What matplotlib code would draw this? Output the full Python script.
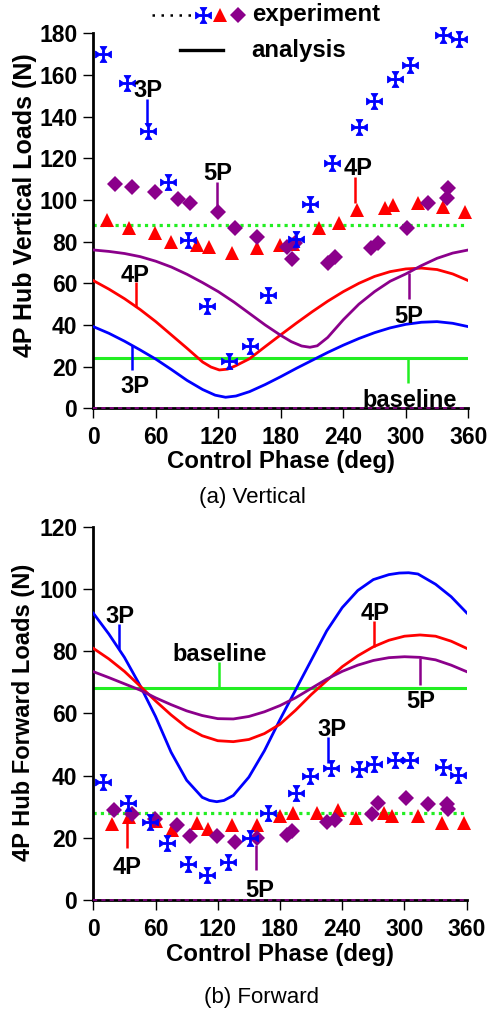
import matplotlib
matplotlib.use("Agg")
import matplotlib.pyplot as plt
from matplotlib.path import Path
from matplotlib.lines import Line2D

plt.rcParams['font.family'] = ['Liberation Sans', 'DejaVu Sans']
plt.rcParams['font.weight'] = 'bold'
plt.rcParams['axes.labelweight'] = 'bold'

BLUE = '#0000ff'
RED = '#ff0000'
PURPLE = '#8b008b'
GREEN = '#22ee22'

# ---------------- analysis curves ----------------
vert_3p_phase = [0, 15, 30, 45, 60, 75, 90, 105, 117, 127, 137, 150, 165, 180,
                 195, 210, 225, 240, 255, 270, 285, 300, 315, 330, 345, 360]
vert_3p = [39.2, 36.0, 32.2, 28.0, 23.6, 18.6, 13.4, 9.0, 6.3, 5.3, 5.9, 8.0, 11.4, 15.2,
           19.2, 23.0, 26.8, 30.3, 33.5, 36.3, 38.6, 40.3, 41.3, 41.6, 40.8, 39.2]

vert_4p_phase = [0, 15, 30, 45, 60, 75, 90, 105, 113, 121, 129, 137, 150, 165, 180,
                 195, 210, 225, 240, 255, 270, 285, 300, 315, 330, 345, 360]
vert_4p = [61.3, 57.2, 52.6, 47.4, 41.6, 35.2, 28.8, 22.2, 19.8, 18.4, 18.8, 20.5, 23.8,
           29.6, 35.3, 40.9, 46.3, 51.4, 56.0, 60.0, 63.3, 65.6, 66.9, 67.3, 66.6, 64.5, 61.3]

vert_5p_phase = [0, 15, 30, 45, 60, 75, 90, 105, 120, 135, 150, 165, 180, 190, 200,
                 208, 215, 225, 240, 255, 270, 285, 300, 315, 330, 345, 360]
vert_5p = [76.0, 75.3, 74.3, 72.8, 70.6, 67.8, 64.3, 60.3, 56.0, 51.0, 45.5, 40.0, 35.0,
           32.0, 29.9, 29.3, 30.0, 34.0, 42.5, 50.0, 56.0, 61.0, 64.5, 68.5, 72.0, 74.5, 76.0]

vert_baseline = 24.0
vert_exp_baseline = 88.0

fwd_3p_phase = [0, 15, 30, 45, 60, 75, 90, 105, 112, 119, 126, 135, 150, 165, 180,
                195, 210, 225, 240, 255, 270, 285, 295, 304, 313, 330, 345, 360]
fwd_3p = [92.2, 85.5, 78.0, 69.0, 59.0, 47.5, 38.5, 33.0, 32.0, 31.6, 32.0, 33.6, 39.5,
          48.0, 58.0, 67.5, 77.0, 86.5, 94.0, 99.5, 103.0, 104.6, 105.1, 105.2, 104.8,
          101.5, 97.5, 92.3]

fwd_4p_phase = [0, 15, 30, 45, 60, 75, 90, 105, 120, 135, 150, 165, 180,
                195, 210, 225, 240, 255, 270, 285, 300, 315, 330, 345, 360]
fwd_4p = [80.9, 77.5, 73.5, 68.8, 64.0, 59.5, 55.5, 52.8, 51.2, 50.9, 51.6, 53.5, 56.5,
          61.0, 66.0, 70.5, 75.0, 78.5, 81.4, 83.5, 84.8, 85.2, 84.8, 83.2, 80.9]

fwd_5p_phase = [0, 15, 30, 45, 60, 75, 90, 105, 120, 135, 150, 165, 180,
                195, 210, 225, 240, 255, 270, 285, 300, 315, 330, 345, 360]
fwd_5p = [73.4, 71.5, 69.5, 67.5, 65.0, 62.8, 60.8, 59.3, 58.3, 58.2, 59.0, 60.5, 62.5,
          65.0, 68.0, 71.0, 73.5, 75.5, 77.0, 77.9, 78.2, 78.0, 77.2, 75.5, 73.4]

fwd_baseline = 68.3
fwd_exp_baseline = 27.9

# ---------------- experimental points ----------------
vert_3p_exp_phase = [9.6, 32.6, 52.8, 72.0, 91.2, 109.4, 130.3, 150.4, 168.0, 194.6,
                     208.0, 228.8, 255.4, 269.5, 289.6, 304.0, 336.0, 351.4]
vert_3p_exp = [169.9, 156.3, 133.1, 108.5, 80.8, 49.1, 22.9, 30.1, 54.4, 81.1,
               97.9, 117.9, 135.2, 147.5, 157.9, 164.8, 179.2, 177.3]

vert_4p_exp_phase = [12.8, 34.6, 59.2, 74.3, 99.8, 111.4, 133.5, 156.8, 179.2, 192.0,
                     216.7, 235.9, 252.8, 280.0, 288.0, 312.0, 336.0, 356.8]
vert_4p_exp = [90.4, 86.4, 84.0, 80.0, 78.4, 77.6, 74.4, 76.8, 78.4, 79.0,
               86.4, 89.1, 95.2, 96.0, 97.6, 98.7, 96.8, 94.4]

vert_5p_exp_phase = [20.8, 36.8, 59.2, 81.6, 92.8, 120.0, 136.0, 157.5, 185.6, 190.4,
                     193.6, 225.6, 232.0, 266.6, 273.6, 300.8, 321.6, 339.2, 340.8]
vert_5p_exp = [107.5, 106.1, 103.7, 100.5, 98.7, 94.4, 86.4, 82.4, 77.6, 71.5,
               79.5, 69.6, 72.5, 76.8, 79.5, 86.4, 98.4, 100.8, 105.6]

fwd_3p_exp_phase = [9.6, 33.7, 54.7, 70.8, 91.6, 109.3, 130.2, 151.1, 168.8, 195.5,
                    209.0, 228.9, 256.5, 270.7, 291.0, 305.4, 337.5, 352.0]
fwd_3p_exp = [38.0, 31.1, 25.2, 18.4, 11.6, 8.0, 12.3, 19.8, 28.1, 34.5,
              39.9, 42.3, 42.0, 43.7, 45.0, 45.0, 42.9, 40.2]

fwd_4p_exp_phase = [17.7, 34.7, 60.5, 75.6, 100.3, 110.9, 134.0, 157.6, 180.0, 192.9,
                    216.0, 236.3, 253.3, 280.6, 287.7, 313.4, 336.0, 357.5]
fwd_4p_exp = [24.4, 26.8, 25.5, 22.5, 24.6, 22.7, 24.1, 24.1, 27.0, 27.9,
              27.9, 28.9, 26.3, 27.9, 27.0, 27.0, 24.8, 24.6]

fwd_5p_exp_phase = [20.0, 37.0, 59.5, 81.0, 93.3, 119.6, 136.6, 158.2, 186.5, 191.3,
                    225.0, 233.0, 268.5, 274.2, 301.5, 323.0, 340.8, 341.7]
fwd_5p_exp = [28.9, 27.6, 25.9, 24.1, 20.6, 20.6, 18.7, 19.8, 20.9, 22.3,
              25.2, 25.7, 27.5, 31.1, 32.7, 30.9, 30.9, 29.1]

x_ticks = [0, 60, 120, 180, 240, 300, 360]

# Filled cross-pattee marker for the 3P measurements:
# thin stems that flare out into a wide bar at each arm end.
_s, _f, _e = 0.13, 0.55, 0.42
_arm = [(_s, _s), (_s, _f), (_e, 1.0), (-_e, 1.0), (-_s, _f)]


def _rot(pts, k):
    out = []
    for x, y in pts:
        for _ in range(k):
            x, y = -y, x
        out.append((x, y))
    return out


_verts = []
for _k in range(4):
    _verts += _rot(_arm, _k)
_verts.append(_verts[0])
cross_marker = Path(_verts, [Path.MOVETO] + [Path.LINETO] * (len(_verts) - 2)
                    + [Path.CLOSEPOLY])

# annotation leaders: (text, colour, text_x, text_y, line_x, line_y0, line_y1)
vert_notes = [
    ('3P', BLUE, 52.8, 149.6, 51.3, 148.3, 136.0),
    ('5P', PURPLE, 119.0, 109.5, 118.4, 108.8, 95.2),
    ('4P', RED, 253.8, 111.8, 251.2, 111.2, 98.7),
    ('4P', RED, 40.0, 60.8, 40.6, 60.8, 48.8),
    ('3P', BLUE, 40.0, 7.2, 37.5, 30.4, 18.4),
    ('5P', PURPLE, 302.4, 40.8, 303.4, 64.8, 52.3),
    ('baseline', GREEN, 304.0, 0.4, 302.4, 24.0, 12.0),
]
fwd_notes = [
    ('3P', BLUE, 25.7, 88.9, 25.1, 88.7, 80.6),
    ('baseline', GREEN, 122.2, 76.8, 121.6, 76.6, 68.3),
    ('4P', RED, 271.6, 90.0, 270.6, 89.7, 81.4),
    ('5P', PURPLE, 315.7, 61.6, 315.1, 77.7, 69.1),
    ('3P', BLUE, 229.9, 52.6, 226.7, 52.5, 43.9),
    ('4P', RED, 32.8, 8.4, 32.2, 16.6, 26.8),
    ('5P', PURPLE, 160.7, 1.1, 156.6, 17.7, 9.6),
]

W, H = 489, 1013
fig = plt.figure(figsize=(W / 100, H / 100), dpi=100)

CROSS_KW = dict(ls='none', marker=cross_marker, ms=11.5, mfc=BLUE, mec=BLUE, mew=0.6)
TRI_KW = dict(ls='none', marker='^', ms=9.5, mfc=RED, mec=RED, mew=0)
DIA_KW = dict(ls='none', marker='D', ms=7.8, mfc=PURPLE, mec=PURPLE, mew=0)


def style_axes(ax, ymax, ylabel, ylab_x, ylab_y, ylab_size):
    ax.set_xlim(0, 360)
    ax.set_ylim(0, ymax)
    ax.set_xticks(x_ticks)
    ax.set_yticks(range(0, ymax + 1, 20))
    for s in ('top', 'right'):
        ax.spines[s].set_visible(False)
    for s in ('left', 'bottom'):
        ax.spines[s].set_linewidth(2.0)
    ax.tick_params(direction='out', length=7, width=1.0, labelsize=16.5)
    ax.tick_params(axis='x', pad=6)
    ax.tick_params(axis='y', pad=4.5)
    ax.set_xlabel('Control Phase (deg)', fontsize=17.3, va='center')
    ax.xaxis.set_label_coords(0.5, -0.1424)
    ax.set_ylabel(ylabel, fontsize=ylab_size, va='center')
    ax.yaxis.set_label_coords(ylab_x, ylab_y)
    ax.axhline(0, color=PURPLE, lw=1.2, ls=(0, (2.5, 2.5)), zorder=5, clip_on=False)


def draw_panel(ax, curves, base, exp_base, e3, e4, e5, notes):
    ax.axhline(exp_base, color=GREEN, lw=2.3, ls=(0, (1, 1.3)), zorder=2)
    ax.axhline(base, color=GREEN, lw=2.2, zorder=2)
    for (ph, val), col in zip(curves, (BLUE, RED, PURPLE)):
        ax.plot(ph, val, color=col, lw=2.0, zorder=3)
    ax.plot(e4[0], e4[1], zorder=4, clip_on=False, **TRI_KW)
    ax.plot(e5[0], e5[1], zorder=4, clip_on=False, **DIA_KW)
    ax.plot(e3[0], e3[1], zorder=4, clip_on=False, **CROSS_KW)
    for text, col, tx, ty, lx, ly0, ly1 in notes:
        ax.plot([lx, lx], [ly0, ly1], color=col, lw=1.8, zorder=4,
                solid_capstyle='butt')
        ax.text(tx, ty, text, ha='center', va='baseline', fontsize=17,
                fontweight='bold', zorder=6)


ax1 = fig.add_axes([93.3 / W, 1 - 408.3 / H, 375 / W, 375 / H])
style_axes(ax1, 180, '4P Hub Vertical Loads (N)', -0.182, 0.542, 18.0)
draw_panel(ax1,
           [(vert_3p_phase, vert_3p), (vert_4p_phase, vert_4p), (vert_5p_phase, vert_5p)],
           vert_baseline, vert_exp_baseline,
           (vert_3p_exp_phase, vert_3p_exp), (vert_4p_exp_phase, vert_4p_exp),
           (vert_5p_exp_phase, vert_5p_exp), vert_notes)

ax2 = fig.add_axes([93.3 / W, 1 - 900 / H, 373.4 / W, 373.3 / H])
style_axes(ax2, 120, '4P Hub Forward Loads (N)', -0.188, 0.502, 17.0)
ax2.xaxis.set_label_coords(0.5, -0.1473)
draw_panel(ax2,
           [(fwd_3p_phase, fwd_3p), (fwd_4p_phase, fwd_4p), (fwd_5p_phase, fwd_5p)],
           fwd_baseline, fwd_exp_baseline,
           (fwd_3p_exp_phase, fwd_3p_exp), (fwd_4p_exp_phase, fwd_4p_exp),
           (fwd_5p_exp_phase, fwd_5p_exp), fwd_notes)

# sub-figure captions
fig.text(252.5 / W, 1 - 497.5 / H, '(a) Vertical', ha='center', va='center',
         fontsize=16, fontweight='normal')
fig.text(261.3 / W, 1 - 997.5 / H, '(b) Forward', ha='center', va='center',
         fontsize=16, fontweight='normal')

# legend
y_exp = 1 - 15 / H
y_ana = 1 - 50 / H
fig.add_artist(Line2D([151.7 / W, 196.7 / W], [y_exp, y_exp], color='black',
                      lw=1.8, ls=(0, (1, 2.6))))
fig.add_artist(Line2D([203 / W], [y_exp], **CROSS_KW))
fig.add_artist(Line2D([220 / W], [y_exp], **TRI_KW))
fig.add_artist(Line2D([238 / W], [y_exp], **DIA_KW))
fig.text(251.7 / W, y_exp, 'experiment', ha='left', va='center', fontsize=17.3)
fig.add_artist(Line2D([180 / W, 223 / W], [y_ana, y_ana], color='black', lw=2.4))
fig.text(251.7 / W, y_ana, 'analysis', ha='left', va='center', fontsize=17.3)

fig.savefig('out.png', dpi=100)
